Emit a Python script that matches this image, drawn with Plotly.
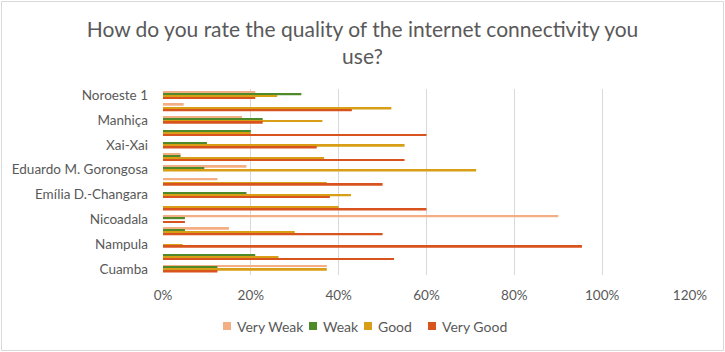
import plotly.graph_objects as go

categories = ["Noroeste 1", "", "Manhiça", "", "Xai-Xai", "", "Eduardo M. Gorongosa", "",
              "Emília D.-Changara", "", "Nicoadala", "", "Nampula", "", "Cuamba"]
very_weak = [0.21, 0.047, 0.18, 0.0, 0.0, 0.04, 0.19, 0.124, 0.0, 0.0, 0.90, 0.15, 0.0, 0.0, 0.373]
weak = [0.315, 0.0, 0.227, 0.20, 0.10, 0.04, 0.094, 0.0, 0.19, 0.0, 0.05, 0.05, 0.0, 0.21, 0.124]
good = [0.26, 0.52, 0.363, 0.20, 0.55, 0.367, 0.713, 0.373, 0.428, 0.40, 0.0, 0.30, 0.045, 0.263, 0.373]
very_good = [0.21, 0.43, 0.227, 0.60, 0.35, 0.55, 0.0, 0.50, 0.38, 0.60, 0.05, 0.50, 0.954, 0.526, 0.124]
x_ticks = [0, 0.2, 0.4, 0.6, 0.8, 1.0, 1.2]

series = [("Very Weak", very_weak, "#F4AE84"), ("Weak", weak, "#4F8A2A"),
          ("Good", good, "#D79E16"), ("Very Good", very_good, "#D9531E")]

pos = list(range(len(categories)))
fig = go.Figure()
for name, vals, col in series:
    fig.add_trace(go.Bar(x=vals, y=pos, orientation="h", name=name, showlegend=False,
                         marker=dict(color=col, line=dict(width=0))))

lab_pos = [p for p, c in zip(pos, categories) if c]
lab_txt = [c for c in categories if c]

FONT = "Lato"
GREY = "#595959"
L, R, T, B = 163, 35, 89, 77
W, H = 725, 352
pw, ph = W - L - R, H - T - B

def px_x(x):
    return (x - L) / pw

def px_y(y):
    return (H - B - y) / ph

shapes = [dict(type="rect", xref="paper", yref="paper",
               x0=px_x(1.5), x1=px_x(W - 1.5), y0=px_y(H - 1.5), y1=px_y(1.5),
               line=dict(color="#D9D9D9", width=1), layer="below")]
annotations = []
leg_x = [227, 313, 368, 432]
for (name, _, col), cx in zip(series, leg_x):
    shapes.append(dict(type="rect", xref="paper", yref="paper",
                       x0=px_x(cx - 4), x1=px_x(cx + 4), y0=px_y(330), y1=px_y(322),
                       fillcolor=col, line=dict(width=0)))
    annotations.append(dict(xref="paper", yref="paper", x=px_x(cx + 8), y=px_y(326),
                            xanchor="left", yanchor="middle", text=name, showarrow=False,
                            font=dict(family=FONT, size=14, color=GREY)))

fig.update_layout(
    width=W, height=H, margin=dict(l=L, r=R, t=T, b=B),
    paper_bgcolor="white", plot_bgcolor="white",
    barmode="group", bargap=0.4, bargroupgap=0,
    title=dict(text="How do you rate the quality of the internet connectivity you<br>use?",
               x=0.5, xanchor="center", yref="container", y=1 - 37 / H, yanchor="middle",
               font=dict(family=FONT, size=21, color=GREY)),
    font=dict(family=FONT, size=13.5, color=GREY),
    xaxis=dict(range=[0, 1.2], tickvals=x_ticks, tickformat=".0%", showgrid=True,
               gridcolor="#D9D9D9", gridwidth=1, zeroline=False, showline=False,
               ticks="", ticklabelstandoff=10, tickfont=dict(size=13.5, color=GREY)),
    yaxis=dict(range=[14.5, -0.5], tickvals=lab_pos, ticktext=lab_txt, showgrid=False,
               zeroline=False, showline=False, ticks="", ticklabelstandoff=14,
               tickfont=dict(size=13.5, color=GREY)),
    showlegend=False,
    shapes=shapes,
    annotations=annotations,
)
fig.write_html("out.html")
